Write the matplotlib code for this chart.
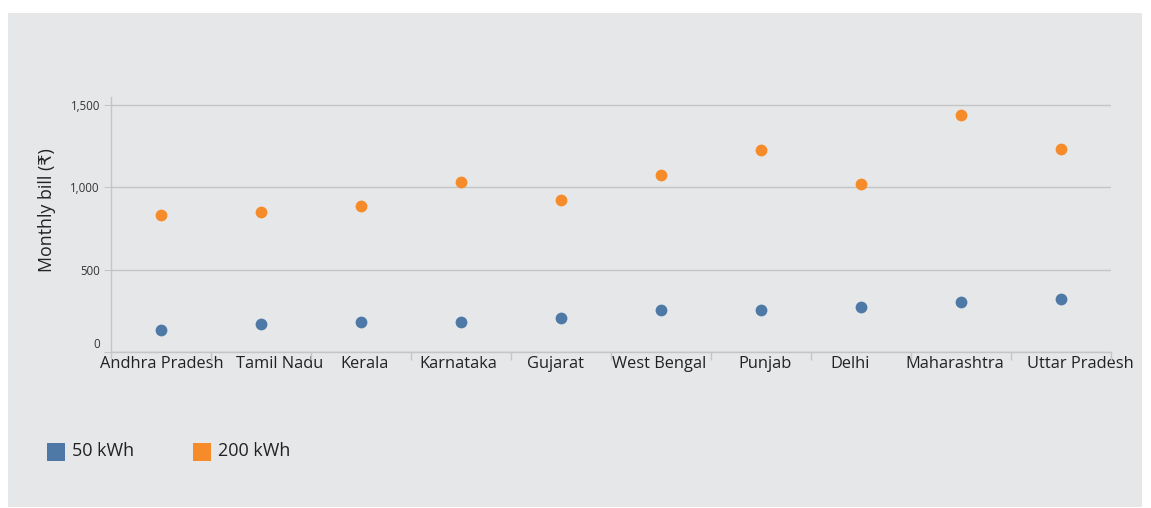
import numpy as np
import matplotlib.pyplot as plt
from matplotlib.patches import Rectangle
from matplotlib.markers import MarkerStyle
from matplotlib.transforms import ScaledTranslation
from matplotlib.ticker import FuncFormatter, FixedLocator

plt.rcParams['font.family'] = ['Open Sans', 'DejaVu Sans']

# data
states = ['Andhra Pradesh', 'Tamil Nadu', 'Kerala', 'Karnataka', 'Gujarat',
          'West Bengal', 'Punjab', 'Delhi', 'Maharashtra', 'Uttar Pradesh']
bill_50 = [134, 168, 182, 182, 207, 255, 255, 274, 302, 322]
bill_200 = [830, 851, 887, 1033, 924, 1076, 1228, 1021, 1440, 1233]

blue = '#4e79a7'
orange = '#f68b2a'
panel = '#e6e7e9'
line = '#c4c5c7'

fig = plt.figure(figsize=(11.51, 5.08), dpi=100)
fig.patch.set_facecolor('white')
W, H = 1151, 508
fig.add_artist(Rectangle((8 / W, 1 - 507 / H), 1134 / W, 494 / H,
                         transform=fig.transFigure, facecolor=panel,
                         edgecolor='none', zorder=0))

ax = fig.add_axes([111 / W, 1 - 352 / H, 1000 / W, 255 / H])
ax.set_facecolor('none')

x = np.arange(len(states))
ax.scatter(x, bill_50, s=72, color=blue, zorder=3, linewidths=0, label='50 kWh')
ax.scatter(x, bill_200, s=72, color=orange, zorder=3, linewidths=0, label='200 kWh')

ax.set_xlim(-0.5, len(states) - 0.5)
ax.set_ylim(0, 1550)
ax.set_yticks([0, 500, 1000, 1500])
ax.yaxis.set_major_formatter(FuncFormatter(lambda v, p: f'{int(v):,}'))
ax.grid(axis='y', color=line, linewidth=1)
ax.set_axisbelow(True)

ax.set_xticks(x)
ax.set_xticklabels(states, fontsize=11.8, color='#222222')
ax.tick_params(axis='x', which='major', length=0, pad=3)
ax.xaxis.set_minor_locator(FixedLocator(np.arange(len(states) + 1) - 0.5))
ax.tick_params(axis='x', which='minor', length=6, color=line, width=1)
ax.tick_params(axis='y', length=5, color=line, labelsize=8.3, labelcolor='#333333', pad=3)

# label nudges (pixels) to match the original placement
shifts = [1, 19, 4, -3, -5, -2, 4, -11, -6, 19]
for lab, dx in zip(ax.get_xticklabels(), shifts):
    lab.set_transform(lab.get_transform() + ScaledTranslation(dx / 100, 0, fig.dpi_scale_trans))
zero = ax.get_yticklabels()[0]
zero.set_transform(zero.get_transform() + ScaledTranslation(0, 9 / 100, fig.dpi_scale_trans))

for s in ['top', 'right']:
    ax.spines[s].set_visible(False)
for s in ['left', 'bottom']:
    ax.spines[s].set_color(line)
    ax.spines[s].set_linewidth(1)

ax.set_ylabel('Monthly bill (₹)', fontsize=12.8, color='#222222')
ax.yaxis.set_label_coords(-55 / 1000, (352 - 210) / 255)

sq = MarkerStyle('s')
leg = ax.legend(loc='upper left', bbox_to_anchor=(31 / W, 1 - 426 / H),
                bbox_transform=fig.transFigure, ncol=2, frameon=False,
                fontsize=13, handletextpad=0.35,
                columnspacing=3.3, handlelength=1.0)
for h in leg.legend_handles:
    h.set_sizes([165])
    h.set_paths([sq.get_path().transformed(sq.get_transform())])
for t in leg.get_texts():
    t.set_color('#222222')

fig.savefig('out.png', dpi=100)
